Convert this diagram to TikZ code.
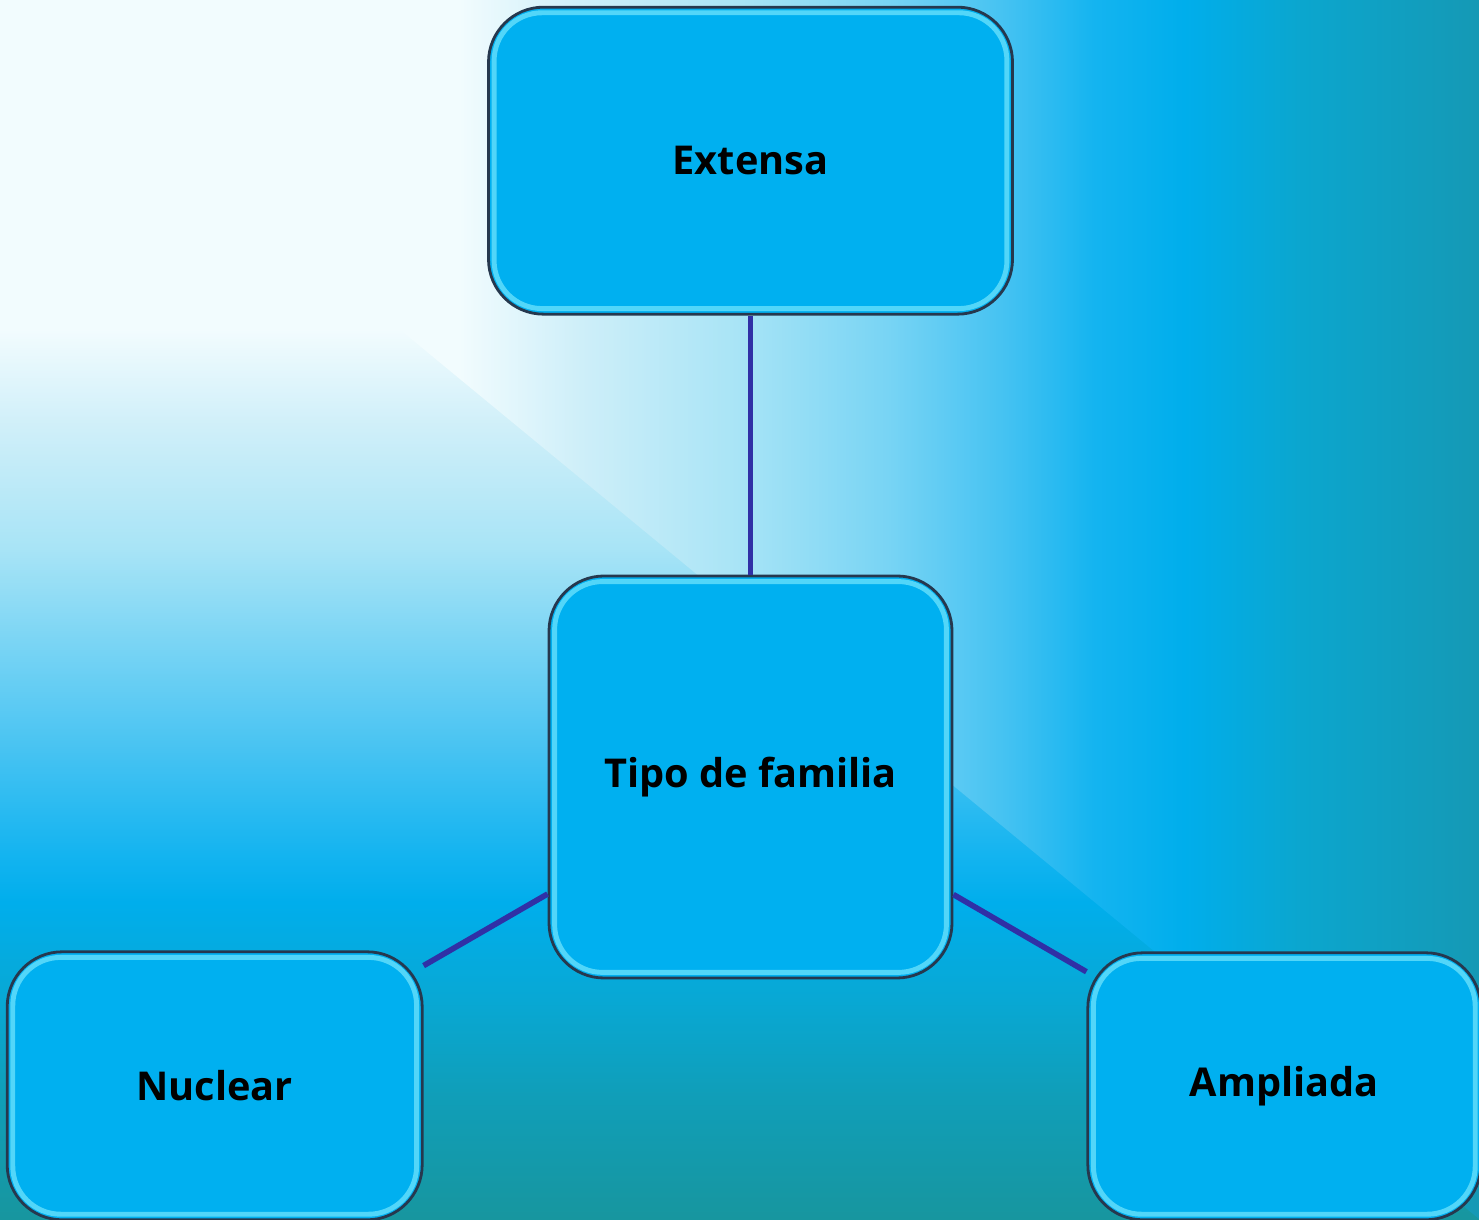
\documentclass[tikz,border=0pt]{standalone}
\usepackage{fontspec}
\setmainfont{Open Sans}
\usepackage{tikz}
\usetikzlibrary{positioning}

% background colours
\definecolor{bgwhite}{HTML}{F2FCFE}
\definecolor{bgpaleA}{HTML}{CFEFF9}
\definecolor{bgpaleB}{HTML}{A8E4F6}
\definecolor{bgpaleC}{HTML}{78D4F4}
\definecolor{bgpaleD}{HTML}{44C2F2}
\definecolor{bgmidA}{HTML}{14B4F0}
\definecolor{bgcyan}{HTML}{00AEEC}
\definecolor{bgtealA}{HTML}{0BA6CE}
\definecolor{bgtealB}{HTML}{1599B5}
\definecolor{bgtealC}{HTML}{08A8D4}
\definecolor{bgtealD}{HTML}{109EB8}
\definecolor{bgtealE}{HTML}{17969F}
% box colours
\definecolor{boxfill}{HTML}{00B0F0}
\definecolor{boxline}{HTML}{26384E}
\definecolor{boxglow}{HTML}{8AF0FF}
\definecolor{linkblue}{HTML}{3030A6}

\pgfdeclarehorizontalshading{bgacross}{100bp}{
	color(0bp)=(bgwhite); color(40.5bp)=(bgwhite); color(44.5bp)=(bgpaleA);
	color(50bp)=(bgpaleB); color(55bp)=(bgpaleC); color(59bp)=(bgpaleD);
	color(62bp)=(bgmidA); color(65bp)=(bgcyan); color(69bp)=(bgtealA);
	color(75bp)=(bgtealB); color(100bp)=(bgtealB)}
\pgfdeclareverticalshading{bgdown}{100bp}{
	color(0bp)=(bgtealE); color(25bp)=(bgtealE); color(30bp)=(bgtealD);
	color(34bp)=(bgtealC); color(38bp)=(bgcyan); color(40bp)=(bgmidA);
	color(44bp)=(bgpaleD); color(48.5bp)=(bgpaleC); color(52.5bp)=(bgpaleB);
	color(57.5bp)=(bgpaleA); color(61.5bp)=(bgwhite); color(100bp)=(bgwhite)}

\begin{document}
\begin{tikzpicture}[
	node distance = 2.59cm,
	box/.style = {rectangle, draw=boxline, line width=0.8pt, fill=boxfill, rounded corners=0.55cm, inner sep=0pt, text centered, align=center, font=\fontsize{11.3}{14}\selectfont\bfseries},
	glow/.style = {draw=boxglow, line width=1.4pt, opacity=0.6, rounded corners=0.48cm},
	link/.style = {draw=linkblue, line width=1.6pt}
	]
	
	% Background
	\useasboundingbox (0,0) rectangle (14.79,12.19);
	\shade [shading=bgdown] (0,0) rectangle (14.79,12.19);
	\shade [shading=bgacross] (0,12.19) -- (14.79,12.19) -- (14.79,0) -- cycle;
	
	% Nodes
	\node [box, minimum width=4.03cm, minimum height=4.02cm] (tipo) at (7.505,4.42) {Tipo de familia};
	\node [box, above=of tipo, minimum width=5.24cm, minimum height=3.07cm] (extensa) {Extensa};
	\node [box, below left=-0.29cm and 1.24cm of tipo, minimum width=4.15cm, minimum height=2.68cm] (nuclear) {Nuclear};
	\node [box, below right=-0.28cm and 1.33cm of tipo, minimum width=3.93cm, minimum height=2.67cm] (ampliada) {Ampliada};
	
	% Inner highlight
	\foreach \n in {extensa, tipo, nuclear, ampliada}
		\path [glow] ([shift={(0.07,0.07)}]\n.south west) rectangle ([shift={(-0.07,-0.07)}]\n.north east);
	
	% Lines
	\path [link] (tipo) -- (extensa);
	\path [link] (tipo) -- (nuclear);
	\path [link] (tipo) -- (ampliada);
\end{tikzpicture}
\end{document}
